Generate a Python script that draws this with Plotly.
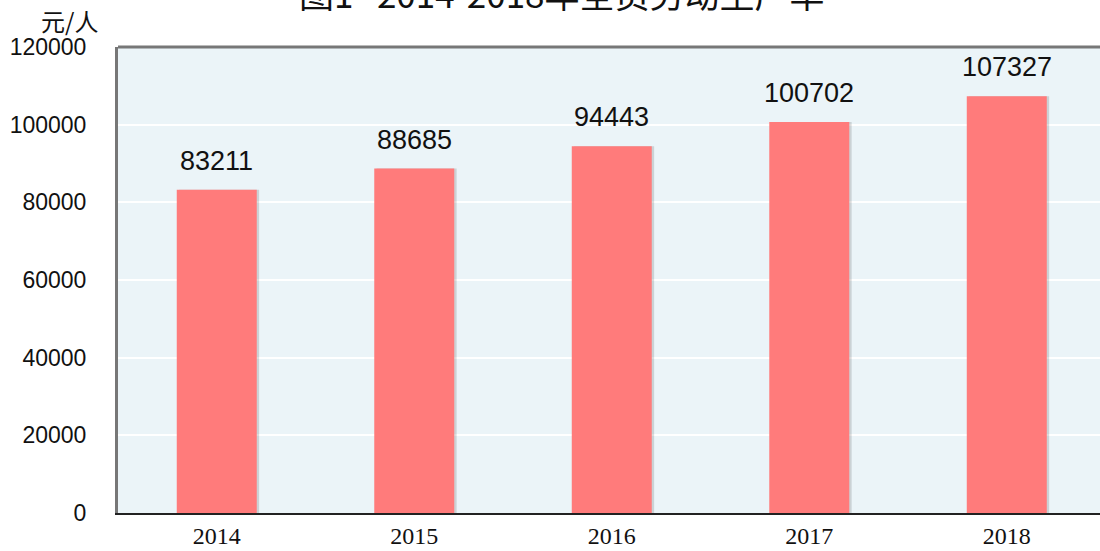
import plotly.graph_objects as go

years = ["2014", "2015", "2016", "2017", "2018"]
values = [83211, 88685, 94443, 100702, 107327]
y_ticks = [0, 20000, 40000, 60000, 80000, 100000, 120000]
title_text = "图1   2014-2018年全员劳动生产率"
unit_text = "元/人"

xpos = list(range(len(years)))
bar_w = 0.405

fig = go.Figure()
# soft shadow on the right of each bar
fig.add_trace(go.Bar(
    x=xpos, y=values, width=bar_w, offset=-bar_w / 2 + 0.012,
    marker=dict(color="rgba(90,90,90,0.22)", line=dict(width=0)),
    hoverinfo="skip",
))
fig.add_trace(go.Bar(
    x=xpos, y=values, width=bar_w, offset=-bar_w / 2,
    marker=dict(color="#FF7B7B", line=dict(width=0)),
))

for xi, v in zip(xpos, values):
    fig.add_annotation(x=xi, y=v, xref="x", yref="y", text=str(v), showarrow=False,
                       yanchor="bottom", yshift=12,
                       font=dict(family="Liberation Sans, Arial, sans-serif", size=27, color="#111111"))

fig.update_layout(
    width=1100, height=551,
    margin=dict(l=118, r=0, t=47, b=38, autoexpand=False),
    paper_bgcolor="white",
    plot_bgcolor="#EBF4F8",
    showlegend=False,
    barmode="overlay",
    xaxis=dict(
        range=[-0.5, 4.472], automargin=False,
        tickmode="array", tickvals=xpos, ticktext=years,
        tickfont=dict(family="Liberation Serif, Times New Roman, serif", size=24, color="#111111"),
        showgrid=False, zeroline=False,
        showline=True, linecolor="#222222", linewidth=2,
        ticks="", ticklabelstandoff=0,
    ),
    yaxis=dict(
        range=[0, 120000], automargin=False,
        tickmode="array", tickvals=y_ticks, ticktext=[str(t) for t in y_ticks],
        tickfont=dict(family="Liberation Sans, Arial, sans-serif", size=23, color="#111111"),
        showgrid=True, gridcolor="#FFFFFF", gridwidth=1.5,
        zeroline=False,
        showline=True, linecolor="#777777", linewidth=3,
        ticks="", ticklabelstandoff=24,
    ),
)

# top border of plot area
fig.add_shape(type="line", xref="paper", yref="paper", x0=0, x1=1, y0=1, y1=1,
              line=dict(color="#777777", width=3))

# title (partly above the page top, as in the reference)
fig.add_annotation(text=title_text, xref="paper", yref="paper", x=0.452, y=1.0,
                   xanchor="center", yanchor="middle", yshift=55, showarrow=False,
                   font=dict(family="Noto Sans CJK SC, sans-serif", size=35, color="#111111"))

# unit label
fig.add_annotation(text=unit_text, xref="paper", yref="paper", x=-0.018, y=1.0,
                   yshift=27, showarrow=False, xanchor="right", yanchor="middle",
                   font=dict(family="Noto Sans CJK SC, sans-serif", size=24, color="#111111"))

fig.write_html("out.html")
